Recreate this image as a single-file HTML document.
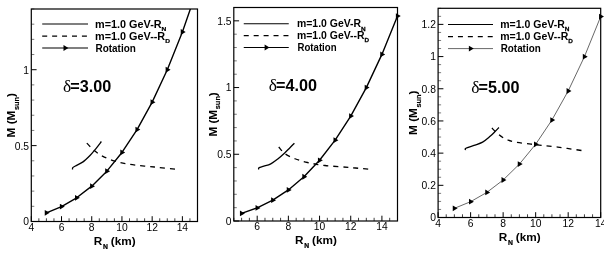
<!DOCTYPE html><html><head><meta charset="utf-8"><style>html,body{margin:0;padding:0;background:#fff}svg{display:block;will-change:transform}text{font-family:"Liberation Sans",sans-serif;fill:#000}.b{font-weight:bold}.s{font-family:"Liberation Serif",serif;font-weight:normal}</style></head><body>
<svg width="604" height="259" viewBox="0 0 604 259">
<rect width="604" height="259" fill="#fff"/>
<path d="M38.85,221.5v-3.2M46.41,221.5v-3.2M53.96,221.5v-3.2M69.07,221.5v-3.2M76.63,221.5v-3.2M84.18,221.5v-3.2M99.29,221.5v-3.2M106.85,221.5v-3.2M114.40,221.5v-3.2M129.51,221.5v-3.2M137.06,221.5v-3.2M144.62,221.5v-3.2M159.73,221.5v-3.2M167.28,221.5v-3.2M174.84,221.5v-3.2M189.95,221.5v-3.2M197.50,221.5v-3.2" stroke="#111" stroke-width="0.8" fill="none"/>
<path d="M31.3,206.32h3M31.3,191.14h3M31.3,175.96h3M31.3,160.79h3M31.3,130.43h3M31.3,115.25h3M31.3,100.07h3M31.3,84.89h3M31.3,54.54h3M31.3,39.36h3M31.3,24.18h3M31.3,9.00h3" stroke="#444" stroke-width="0.7" fill="none"/>
<path d="M31.30,221.5v-5.3M61.52,221.5v-5.3M91.74,221.5v-5.3M121.95,221.5v-5.3M152.17,221.5v-5.3M182.39,221.5v-5.3M31.3,221.50h5.3M31.3,145.61h5.3M31.3,69.71h5.3" stroke="#000" stroke-width="1" fill="none"/>
<rect x="31.3" y="9.0" width="166.20" height="212.50" fill="none" stroke="#000" stroke-width="1.2"/>
<text x="31.30" y="230.9" font-size="10.3" text-anchor="middle">4</text>
<text x="61.52" y="230.9" font-size="10.3" text-anchor="middle">6</text>
<text x="91.74" y="230.9" font-size="10.3" text-anchor="middle">8</text>
<text x="121.95" y="230.9" font-size="10.3" text-anchor="middle">10</text>
<text x="152.17" y="230.9" font-size="10.3" text-anchor="middle">12</text>
<text x="182.39" y="230.9" font-size="10.3" text-anchor="middle">14</text>
<text x="29.10" y="225.40" font-size="10.3" text-anchor="end">0</text>
<text x="29.10" y="149.51" font-size="10.3" text-anchor="end">0.5</text>
<text x="29.10" y="73.61" font-size="10.3" text-anchor="end">1</text>
<text class="b" transform="translate(93.75,244.75) scale(1.015,1)" font-size="11.6">R<tspan font-size="6.7" dy="3.9" dx="0.7" stroke="#000" stroke-width="0.25">N</tspan><tspan dy="-3.9" dx="-0.4"> (km)</tspan></text>
<text class="b" transform="translate(15.0,115.3) rotate(-90) scale(1.015,1)" font-size="11.6" text-anchor="middle">M (M<tspan font-size="7.3" dy="3.6" dx="0.6" stroke="#000" stroke-width="0.15">sun</tspan><tspan dy="-3.6" dx="-0.2">)</tspan></text>
<path d="M42.2,24.0H88" stroke="#000" stroke-width="1.1"/>
<path d="M42.2,36.1H88" stroke="#000" stroke-width="1.15" stroke-dasharray="5 4.93"/>
<path d="M42.2,48H88" stroke="#000" stroke-width="1.1"/>
<path d="M63.47,45.10L68.37,48.00L63.47,50.90Z" fill="#000"/>
<text class="b" transform="translate(95.0,27.50) scale(1.075,1)" font-size="10.1">m=1.0 GeV-R<tspan font-size="6.2" dy="3.3" stroke="#000" stroke-width="0.25">N</tspan></text>
<text class="b" transform="translate(95.0,39.60) scale(1.075,1)" font-size="10.1">m=1.0 GeV--R<tspan font-size="6.2" dy="3.3" stroke="#000" stroke-width="0.25">D</tspan></text>
<text class="b" transform="translate(95.5,51.50) scale(0.985,1)" font-size="10.1">Rotation</text>
<text class="b" x="63" y="92.25" font-size="16.2"><tspan class="s" font-size="17.5">δ</tspan><tspan dx="-0.9">=3.00</tspan></text>
<clipPath id="c0"><rect x="30.3" y="9.0" width="172.20" height="212.50"/></clipPath>
<g clip-path="url(#c0)"><polyline points="46.41,212.87 61.52,206.58 76.63,197.81 91.74,186.14 106.85,171.15 121.95,152.44 137.06,129.58 152.17,102.16 167.28,69.77 182.39,31.99 197.50,-11.59" fill="none" stroke="#000" stroke-width="1.4" stroke-linejoin="round"/>
<path d="M44.78,209.97L49.68,212.87L44.78,215.77Z" fill="#000"/>
<path d="M59.88,203.68L64.78,206.58L59.88,209.48Z" fill="#000"/>
<path d="M74.99,194.91L79.89,197.81L74.99,200.71Z" fill="#000"/>
<path d="M90.10,183.24L95.00,186.14L90.10,189.04Z" fill="#000"/>
<path d="M105.21,168.25L110.11,171.15L105.21,174.05Z" fill="#000"/>
<path d="M120.32,149.54L125.22,152.44L120.32,155.34Z" fill="#000"/>
<path d="M135.43,126.68L140.33,129.58L135.43,132.48Z" fill="#000"/>
<path d="M150.54,99.26L155.44,102.16L150.54,105.06Z" fill="#000"/>
<path d="M165.65,66.87L170.55,69.77L165.65,72.67Z" fill="#000"/>
<path d="M180.76,29.09L185.66,31.99L180.76,34.89Z" fill="#000"/>
</g>
<path d="M72.50,169.50C72.55,169.20 72.32,168.28 72.80,167.70C73.28,167.12 73.70,166.97 75.40,166.00C77.10,165.03 80.57,163.65 83.00,161.90C85.43,160.15 88.02,157.50 90.00,155.50C91.98,153.50 93.00,152.23 94.90,149.90C96.80,147.57 100.32,142.90 101.40,141.50" fill="none" stroke="#000" stroke-width="1.3"/>
<path d="M86.80,143.10C88.05,144.33 91.70,148.33 94.30,150.50C96.90,152.67 98.98,154.33 102.40,156.10C105.82,157.87 110.25,159.72 114.80,161.10C119.35,162.48 123.08,163.42 129.70,164.40C136.32,165.38 146.57,166.18 154.50,167.00C162.43,167.82 173.50,168.92 177.30,169.30" fill="none" stroke="#000" stroke-width="1.3" stroke-dasharray="5 4.93"/>
<path d="M233.80,221.0v-3.2M241.60,221.0v-3.2M249.39,221.0v-3.2M264.98,221.0v-3.2M272.78,221.0v-3.2M280.57,221.0v-3.2M296.16,221.0v-3.2M303.96,221.0v-3.2M311.75,221.0v-3.2M327.34,221.0v-3.2M335.14,221.0v-3.2M342.93,221.0v-3.2M358.52,221.0v-3.2M366.32,221.0v-3.2M374.11,221.0v-3.2M389.70,221.0v-3.2M397.50,221.0v-3.2" stroke="#111" stroke-width="0.8" fill="none"/>
<path d="M233.8,207.66h3M233.8,194.31h3M233.8,180.97h3M233.8,167.62h3M233.8,140.94h3M233.8,127.59h3M233.8,114.25h3M233.8,100.91h3M233.8,74.22h3M233.8,60.87h3M233.8,47.53h3M233.8,34.19h3M233.8,7.50h3" stroke="#444" stroke-width="0.7" fill="none"/>
<path d="M257.19,221.0v-5.3M288.37,221.0v-5.3M319.55,221.0v-5.3M350.73,221.0v-5.3M381.91,221.0v-5.3M233.8,221.00h5.3M233.8,154.28h5.3M233.8,87.56h5.3M233.8,20.84h5.3" stroke="#000" stroke-width="1" fill="none"/>
<rect x="233.8" y="7.5" width="163.70" height="213.50" fill="none" stroke="#000" stroke-width="1.2"/>
<text x="257.19" y="230.3" font-size="10.3" text-anchor="middle">6</text>
<text x="288.37" y="230.3" font-size="10.3" text-anchor="middle">8</text>
<text x="319.55" y="230.3" font-size="10.3" text-anchor="middle">10</text>
<text x="350.73" y="230.3" font-size="10.3" text-anchor="middle">12</text>
<text x="381.91" y="230.3" font-size="10.3" text-anchor="middle">14</text>
<text x="231.60" y="224.90" font-size="10.3" text-anchor="end">0</text>
<text x="231.60" y="158.18" font-size="10.3" text-anchor="end">0.5</text>
<text x="231.60" y="91.46" font-size="10.3" text-anchor="end">1</text>
<text x="231.60" y="24.74" font-size="10.3" text-anchor="end">1.5</text>
<text class="b" transform="translate(295,244) scale(1.015,1)" font-size="11.6">R<tspan font-size="6.7" dy="3.9" dx="0.7" stroke="#000" stroke-width="0.25">N</tspan><tspan dy="-3.9" dx="-0.4"> (km)</tspan></text>
<text class="b" transform="translate(216.7,114.5) rotate(-90) scale(1.015,1)" font-size="11.6" text-anchor="middle">M (M<tspan font-size="7.3" dy="3.6" dx="0.6" stroke="#000" stroke-width="0.15">sun</tspan><tspan dy="-3.6" dx="-0.2">)</tspan></text>
<path d="M243.75,23.75H288.75" stroke="#000" stroke-width="1.1"/>
<path d="M243.75,35.6H288.75" stroke="#000" stroke-width="1.15" stroke-dasharray="5 4.93"/>
<path d="M243.75,47.5H288.75" stroke="#000" stroke-width="1.1"/>
<path d="M264.62,44.60L269.52,47.50L264.62,50.40Z" fill="#000"/>
<text class="b" transform="translate(297.0,27.25) scale(1.034,1)" font-size="10.1">m=1.0 GeV-R<tspan font-size="6.2" dy="3.3" stroke="#000" stroke-width="0.25">N</tspan></text>
<text class="b" transform="translate(297.0,39.10) scale(1.034,1)" font-size="10.1">m=1.0 GeV--R<tspan font-size="6.2" dy="3.3" stroke="#000" stroke-width="0.25">D</tspan></text>
<text class="b" transform="translate(297.5,51.00) scale(0.955,1)" font-size="10.1">Rotation</text>
<text class="b" x="268.75" y="90.75" font-size="16.2"><tspan class="s" font-size="17.5">δ</tspan><tspan dx="-0.9">=4.00</tspan></text>
<clipPath id="c1"><rect x="232.8" y="7.5" width="169.70" height="213.50"/></clipPath>
<g clip-path="url(#c1)"><polyline points="241.60,213.41 257.19,207.89 272.78,200.18 288.37,189.91 303.96,176.74 319.55,160.29 335.14,140.19 350.73,116.09 366.32,87.61 381.91,54.40 397.50,16.09" fill="none" stroke="#000" stroke-width="1.4" stroke-linejoin="round"/>
<path d="M239.96,210.51L244.86,213.41L239.96,216.31Z" fill="#000"/>
<path d="M255.55,204.99L260.45,207.89L255.55,210.79Z" fill="#000"/>
<path d="M271.14,197.28L276.04,200.18L271.14,203.08Z" fill="#000"/>
<path d="M286.73,187.01L291.63,189.91L286.73,192.81Z" fill="#000"/>
<path d="M302.32,173.84L307.22,176.74L302.32,179.64Z" fill="#000"/>
<path d="M317.91,157.39L322.81,160.29L317.91,163.19Z" fill="#000"/>
<path d="M333.50,137.29L338.40,140.19L333.50,143.09Z" fill="#000"/>
<path d="M349.10,113.19L354.00,116.09L349.10,118.99Z" fill="#000"/>
<path d="M364.69,84.71L369.59,87.61L364.69,90.51Z" fill="#000"/>
<path d="M380.28,51.50L385.18,54.40L380.28,57.30Z" fill="#000"/>
<path d="M395.87,13.19L400.77,16.09L395.87,18.99Z" fill="#000"/>
</g>
<path d="M258.50,169.40C258.62,169.10 258.30,168.13 259.20,167.60C260.10,167.07 261.97,166.83 263.90,166.20C265.83,165.57 268.48,165.02 270.80,163.80C273.12,162.58 275.48,160.72 277.80,158.90C280.12,157.08 282.75,154.68 284.70,152.90C286.65,151.12 287.88,149.82 289.50,148.20C291.12,146.58 293.58,144.03 294.40,143.20" fill="none" stroke="#000" stroke-width="1.3"/>
<path d="M278.75,147.00C279.79,148.12 282.29,151.79 285.00,153.75C287.71,155.71 291.25,157.29 295.00,158.75C298.75,160.21 302.50,161.38 307.50,162.50C312.50,163.62 317.92,164.67 325.00,165.50C332.08,166.33 342.47,166.85 350.00,167.50C357.53,168.15 366.83,169.08 370.20,169.40" fill="none" stroke="#000" stroke-width="1.3" stroke-dasharray="5 4.93"/>
<path d="M446.23,217.5v-3.2M454.36,217.5v-3.2M462.49,217.5v-3.2M478.75,217.5v-3.2M486.88,217.5v-3.2M495.01,217.5v-3.2M511.27,217.5v-3.2M519.40,217.5v-3.2M527.53,217.5v-3.2M543.79,217.5v-3.2M551.92,217.5v-3.2M560.05,217.5v-3.2M576.31,217.5v-3.2M584.44,217.5v-3.2M592.57,217.5v-3.2" stroke="#111" stroke-width="0.8" fill="none"/>
<path d="M438.1,209.45h3M438.1,201.41h3M438.1,193.36h3M438.1,177.27h3M438.1,169.22h3M438.1,161.18h3M438.1,145.08h3M438.1,137.04h3M438.1,128.99h3M438.1,112.90h3M438.1,104.85h3M438.1,96.81h3M438.1,80.72h3M438.1,72.67h3M438.1,64.62h3M438.1,48.53h3M438.1,40.48h3M438.1,32.44h3M438.1,16.35h3M438.1,8.30h3" stroke="#444" stroke-width="0.7" fill="none"/>
<path d="M438.10,217.5v-5.3M470.62,217.5v-5.3M503.14,217.5v-5.3M535.66,217.5v-5.3M568.18,217.5v-5.3M600.70,217.5v-5.3M438.1,217.50h5.3M438.1,185.32h5.3M438.1,153.13h5.3M438.1,120.95h5.3M438.1,88.76h5.3M438.1,56.58h5.3M438.1,24.39h5.3" stroke="#000" stroke-width="1" fill="none"/>
<rect x="438.1" y="8.3" width="162.60" height="209.20" fill="none" stroke="#000" stroke-width="1.2"/>
<text x="438.10" y="227" font-size="10.3" text-anchor="middle">4</text>
<text x="470.62" y="227" font-size="10.3" text-anchor="middle">6</text>
<text x="503.14" y="227" font-size="10.3" text-anchor="middle">8</text>
<text x="535.66" y="227" font-size="10.3" text-anchor="middle">10</text>
<text x="568.18" y="227" font-size="10.3" text-anchor="middle">12</text>
<text x="600.70" y="227" font-size="10.3" text-anchor="middle">14</text>
<text x="435.90" y="221.40" font-size="10.3" text-anchor="end">0</text>
<text x="435.90" y="189.22" font-size="10.3" text-anchor="end">0.2</text>
<text x="435.90" y="157.03" font-size="10.3" text-anchor="end">0.4</text>
<text x="435.90" y="124.85" font-size="10.3" text-anchor="end">0.6</text>
<text x="435.90" y="92.66" font-size="10.3" text-anchor="end">0.8</text>
<text x="435.90" y="60.48" font-size="10.3" text-anchor="end">1</text>
<text x="435.90" y="28.29" font-size="10.3" text-anchor="end">1.2</text>
<text class="b" transform="translate(498.75,240.75) scale(1.015,1)" font-size="11.6">R<tspan font-size="6.7" dy="3.9" dx="0.7" stroke="#000" stroke-width="0.25">N</tspan><tspan dy="-3.9" dx="-0.4"> (km)</tspan></text>
<text class="b" transform="translate(417.2,112.8) rotate(-90) scale(1.015,1)" font-size="11.6" text-anchor="middle">M (M<tspan font-size="7.3" dy="3.6" dx="0.6" stroke="#000" stroke-width="0.15">sun</tspan><tspan dy="-3.6" dx="-0.2">)</tspan></text>
<path d="M448,24.5H493" stroke="#000" stroke-width="1.1"/>
<path d="M448,36.6H493" stroke="#000" stroke-width="1.15" stroke-dasharray="5 4.93"/>
<path d="M448,48.6H493" stroke="#000" stroke-width="0.6"/>
<path d="M468.87,45.70L473.77,48.60L468.87,51.50Z" fill="#000"/>
<text class="b" transform="translate(500.25,28.00) scale(1.04,1)" font-size="10.1">m=1.0 GeV-R<tspan font-size="6.2" dy="3.3" stroke="#000" stroke-width="0.25">N</tspan></text>
<text class="b" transform="translate(500.25,40.10) scale(1.04,1)" font-size="10.1">m=1.0 GeV--R<tspan font-size="6.2" dy="3.3" stroke="#000" stroke-width="0.25">D</tspan></text>
<text class="b" transform="translate(500.75,52.10) scale(0.975,1)" font-size="10.1">Rotation</text>
<text class="b" x="471.25" y="92.75" font-size="16.2"><tspan class="s" font-size="17.5">δ</tspan><tspan dx="-0.9">=5.00</tspan></text>
<clipPath id="c2"><rect x="437.1" y="8.3" width="168.60" height="209.20"/></clipPath>
<g clip-path="url(#c2)"><polyline points="454.36,208.35 470.62,201.68 486.88,192.39 503.14,180.01 519.40,164.12 535.66,144.28 551.92,120.04 568.18,90.98 584.44,56.64 600.70,16.58" fill="none" stroke="#000" stroke-width="0.6" stroke-linejoin="round"/>
<path d="M452.73,205.45L457.63,208.35L452.73,211.25Z" fill="#000"/>
<path d="M468.99,198.78L473.89,201.68L468.99,204.58Z" fill="#000"/>
<path d="M485.25,189.49L490.15,192.39L485.25,195.29Z" fill="#000"/>
<path d="M501.51,177.11L506.41,180.01L501.51,182.91Z" fill="#000"/>
<path d="M517.77,161.22L522.67,164.12L517.77,167.02Z" fill="#000"/>
<path d="M534.03,141.38L538.93,144.28L534.03,147.18Z" fill="#000"/>
<path d="M550.29,117.14L555.19,120.04L550.29,122.94Z" fill="#000"/>
<path d="M566.55,88.08L571.45,90.98L566.55,93.88Z" fill="#000"/>
<path d="M582.81,53.74L587.71,56.64L582.81,59.54Z" fill="#000"/>
<path d="M599.07,13.68L603.97,16.58L599.07,19.48Z" fill="#000"/>
</g>
<path d="M465.50,150.10C465.57,149.80 464.48,149.08 465.90,148.30C467.32,147.52 471.22,146.43 474.00,145.40C476.78,144.37 479.92,143.62 482.60,142.10C485.28,140.58 488.07,138.02 490.10,136.30C492.13,134.58 493.33,133.27 494.80,131.80C496.27,130.33 498.22,128.22 498.90,127.50" fill="none" stroke="#000" stroke-width="1.3"/>
<path d="M491.90,128.00C492.65,128.75 494.40,130.82 496.40,132.50C498.40,134.18 500.77,136.50 503.90,138.10C507.03,139.70 509.98,141.02 515.20,142.10C520.42,143.18 528.10,143.77 535.20,144.60C542.30,145.43 549.98,146.10 557.80,147.10C565.62,148.10 578.05,150.02 582.10,150.60" fill="none" stroke="#000" stroke-width="1.3" stroke-dasharray="5 4.93"/>
</svg></body></html>
